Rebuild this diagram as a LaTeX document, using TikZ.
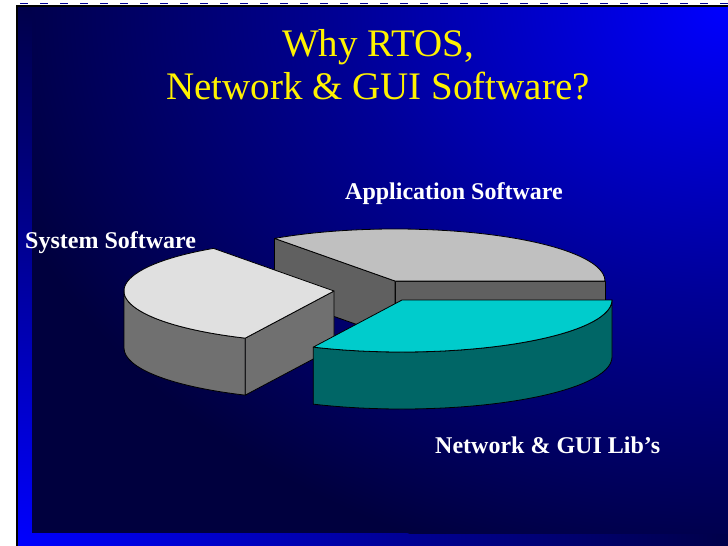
\documentclass[tikz,border=0pt]{standalone}
\usepackage{fontspec}
\setmainfont{Liberation Serif}
\usepackage{xcolor}
\usepackage{tikz}
\usetikzlibrary{positioning}

\definecolor{slidebright}{RGB}{0,0,255}
\definecolor{slidemid}{RGB}{0,0,150}
\definecolor{slidedark}{RGB}{0,0,62}
\definecolor{apptop}{RGB}{192,192,192}
\definecolor{appside}{RGB}{96,96,96}
\definecolor{systop}{RGB}{224,224,224}
\definecolor{sysside}{RGB}{112,112,112}
\definecolor{nettop}{RGB}{0,204,204}
\definecolor{netside}{RGB}{0,102,102}

\pgfdeclareradialshading{glow}{\pgfpoint{0bp}{0bp}}{color(0bp)=(slidebright); color(12.5bp)=(slidemid); color(25bp)=(slidedark); color(50bp)=(slidedark)}

\begin{document}
\begin{tikzpicture}[x=1pt,y=-1pt,
  headline/.style={text=yellow,inner sep=0pt,anchor=base,font=\fontsize{39}{45}\selectfont},
  slicelabel/.style={text=white,inner sep=0pt,anchor=base west,font=\fontsize{24}{28}\selectfont\bfseries},
  pie/.style={x radius=210,y radius=52},
  face/.style={draw=black,line width=0.8pt,line join=round}]
\useasboundingbox (0,0) rectangle (728,546);
\fill[white] (0,0) rectangle (728,546);

% slide frame and background
\begin{scope}
\clip (18,7) rectangle (728,546);
\fill[slidedark] (18,7) rectangle (728,546);
\shade[shading=glow] (18,546) ellipse [x radius=760,y radius=580];
\end{scope}
\begin{scope}
\clip (32,7) rectangle (728,533);
\fill[slidedark] (32,7) rectangle (728,533);
\shade[shading=glow] (728,7) ellipse [x radius=760,y radius=580];
\end{scope}
\draw[line width=2.5pt] (17,546) -- (17,6) -- (728,6);
\draw[slidemid,line width=1.2pt,dash pattern=on 8pt off 12pt] (20,3.8) -- (728,3.8);

\node[headline] (why)    at (378,56) {Why RTOS,};
\node[headline] (netgui) at (378,99) {Network \& GUI Software?};

% pie slices
\coordinate (appc) at (395,281);
\coordinate (sysc) at (334,291);
\coordinate (netc) at (402,300);

\filldraw[face,fill=appside] (appc) -- ++(210,0) -- ++(0,57) -- ++(-210,0) -- cycle;
\filldraw[face,fill=appside] (appc) ++(0,57) -- ++(235:210 and 52) -- ++(0,-57) -- (appc) -- cycle;
\filldraw[face,fill=apptop] (appc) -- ++(235:210 and 52) arc[pie,start angle=235,end angle=360] -- cycle;

\filldraw[face,fill=sysside] (sysc) ++(180:210 and 52) arc[pie,start angle=180,end angle=115] -- ++(0,57) arc[pie,start angle=115,end angle=180] -- cycle;
\filldraw[face,fill=sysside] (sysc) ++(0,57) -- ++(115:210 and 52) -- ++(0,-57) -- (sysc) -- cycle;
\filldraw[face,fill=systop] (sysc) -- ++(115:210 and 52) arc[pie,start angle=115,end angle=235] -- cycle;

\filldraw[face,fill=netside] (netc) ++(210,0) arc[pie,start angle=0,end angle=115] -- ++(0,57) arc[pie,start angle=115,end angle=0] -- cycle;
\filldraw[face,fill=nettop] (netc) -- ++(210,0) arc[pie,start angle=0,end angle=115] -- cycle;

\node[slicelabel] (appsw)  at (345,199) {Application Software};
\node[slicelabel] (syssw)  at (25,248)  {System Software};
\node[slicelabel] (netlib) at (435,453) {Network \& GUI Lib’s};
\end{tikzpicture}
\end{document}
